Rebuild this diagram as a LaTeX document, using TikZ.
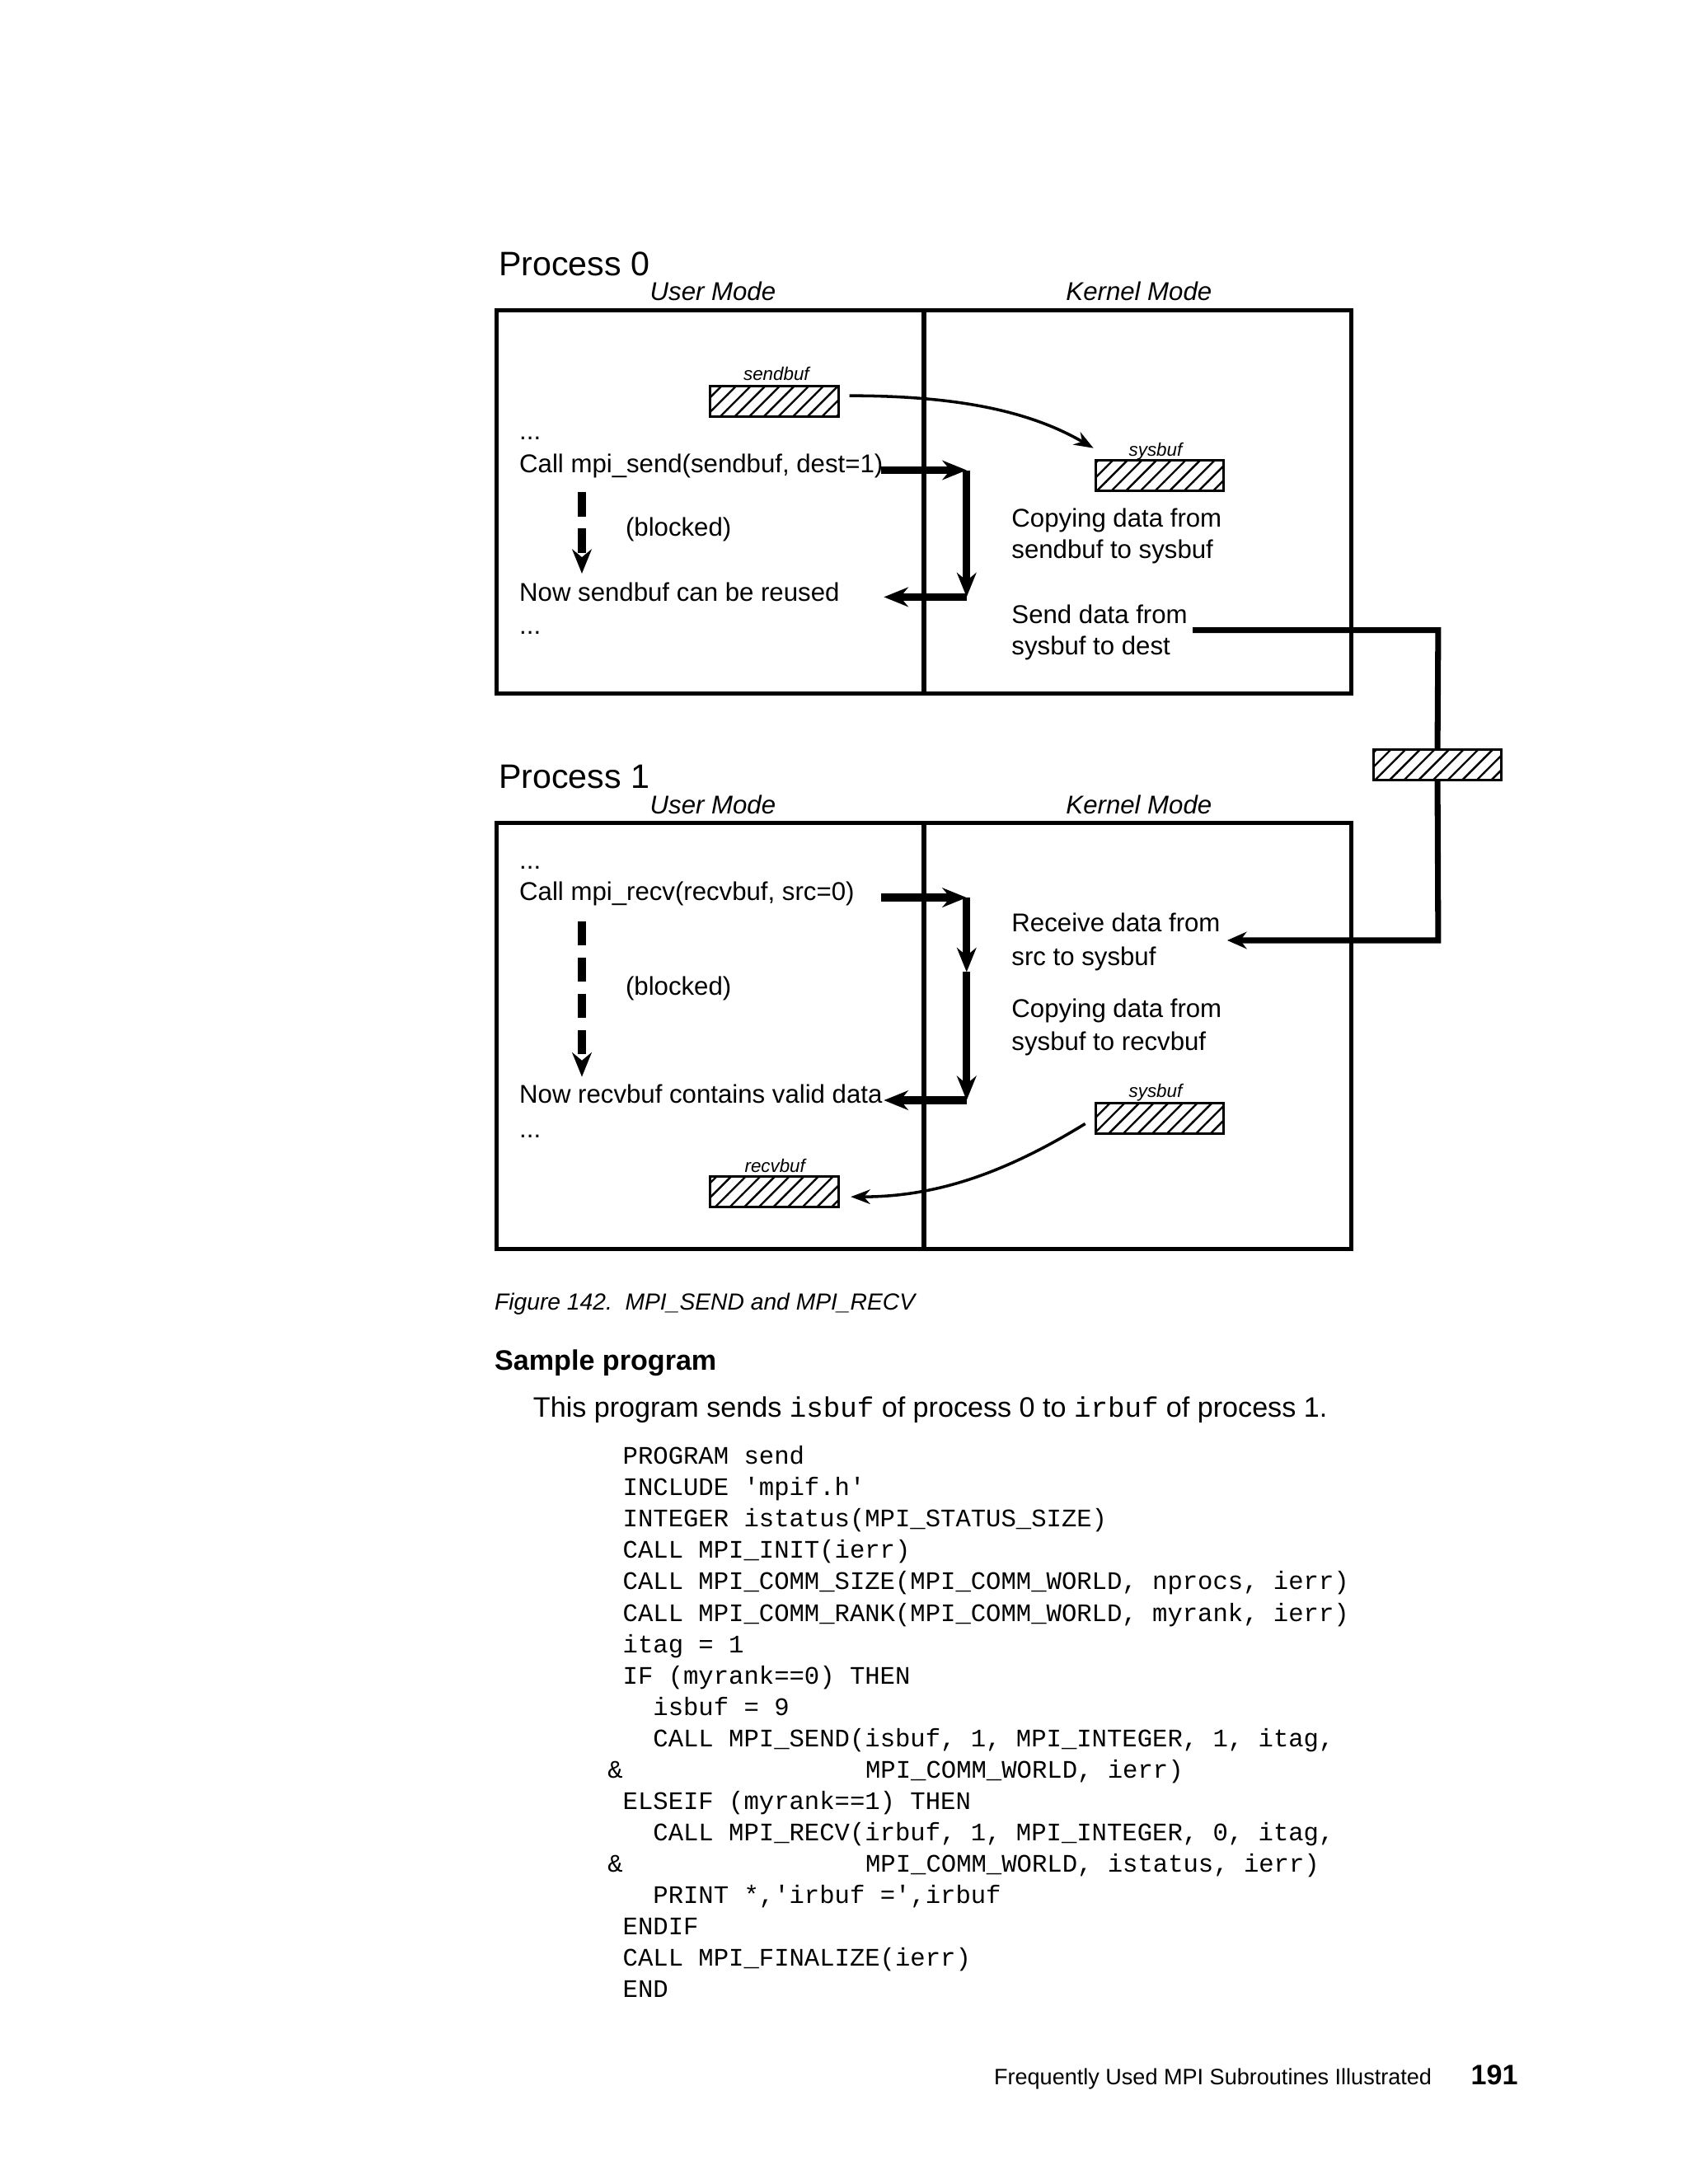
\documentclass[tikz,border=0pt]{standalone}
\usepackage{fontspec}
\setmainfont{Liberation Sans}
\newfontfamily\mono{Liberation Mono}
\usetikzlibrary{patterns,arrows.meta}
\begin{document}
\begin{tikzpicture}[x=0.01cm,y=-0.01cm,
 t/.style={anchor=base west,inner sep=0,font=\fontsize{5.3}{6.4}\selectfont,align=left},
 proc/.style={anchor=base west,inner sep=0,font=\fontsize{7}{8}\selectfont},
 mode/.style={anchor=base,inner sep=0,font=\fontsize{5.3}{6}\selectfont\itshape},
 lab/.style={anchor=base,inner sep=0,font=\fontsize{3.8}{4}\selectfont\itshape},
 buf/.style={draw,line width=0.5pt,pattern=north east lines,minimum width=0.93cm,minimum height=0.22cm,inner sep=0},
 box/.style={draw,line width=0.9pt},
 thick arr/.style={line width=1.6pt,-{Stealth[length=5pt,width=4pt]}},
 dash arr/.style={line width=1.6pt,dash pattern=on 5pt off 2.5pt,-{Stealth[length=5pt,width=4pt]}},
 thin arr/.style={line width=0.6pt,-{Stealth[length=4pt,width=3pt]}},
 code/.style={anchor=base west,inner sep=0,font=\fontsize{5.2}{6}\mono}]
\useasboundingbox (0,0) rectangle (1224,1584);
% Process 0
\node[proc] (p0) at (361,200) {Process 0};
\node[mode] (um0) at (517,218) {User Mode};
\node[mode] (km0) at (826,218) {Kernel Mode};
\draw[box] (360,225) rectangle (980,503);
\draw[box] (670,225) -- (670,503);
\node[buf] (sb) at (561.5,291) {};
\node[lab] at (563,276) {sendbuf};
\node[buf] (sy0) at (841,345) {};
\node[lab] at (838,331) {sysbuf};
\draw[thin arr] (616,287) .. controls (700,287) and (750,300) .. (793,325);
\node[t] at (376,319) {...};
\node[t] (cs) at (376,343) {Call mpi\_send(sendbuf, dest=1)};
\draw[dash arr] (422,357) -- (422,416);
\node[t] at (453,389) {(blocked)};
\node[t] at (376,436) {Now sendbuf can be reused};
\node[t] at (376,460) {...};
\coordinate (a1) at (639,341); \coordinate (a2) at (701,341);
\coordinate (a3) at (701,433); \coordinate (a4) at (641,433);
\draw[thick arr] (a1) -- (a2);
\draw[thick arr] (a2) -- (a3);
\draw[thick arr] (a3) -- (a4);
\node[t] at (733,382) {Copying data from};
\node[t] at (733,405) {sendbuf to sysbuf};
\node[t] at (733,452) {Send data from};
\node[t] at (733,475) {sysbuf to dest};
\node[buf] (net) at (1042.5,554.5) {};
\coordinate (n1) at (865,457); \coordinate (n2) at (1043,457);
\coordinate (n3) at (1043,682); \coordinate (n4) at (890,682);
\draw[line width=1.2pt] (n1) -- (n2) -- (net.north);
\draw[line width=1.2pt,-{Stealth[length=4pt,width=3.5pt]}] (net.south) -- (n3) -- (n4);
% Process 1
\node[proc] (p1) at (361,572) {Process 1};
\node[mode] (um1) at (517,590) {User Mode};
\node[mode] (km1) at (826,590) {Kernel Mode};
\draw[box] (360,597) rectangle (980,906);
\draw[box] (670,597) -- (670,906);
\node[t] at (376,630) {...};
\node[t] at (376,653) {Call mpi\_recv(recvbuf, src=0)};
\draw[dash arr] (422,668) -- (422,781);
\node[t] at (453,722) {(blocked)};
\node[t] at (376,800) {Now recvbuf contains valid data};
\node[t] at (376,825) {...};
\coordinate (b1) at (639,651); \coordinate (b2) at (701,651);
\coordinate (b3) at (701,705); \coordinate (b4) at (701,798); \coordinate (b5) at (641,798);
\draw[thick arr] (b1) -- (b2);
\draw[thick arr] (b2) -- (b3);
\draw[thick arr] (b3) -- (b4);
\draw[thick arr] (b4) -- (b5);
\node[t] at (733,676) {Receive data from};
\node[t] at (733,700) {src to sysbuf};
\node[t] at (733,738) {Copying data from};
\node[t] at (733,762) {sysbuf to recvbuf};
\node[buf] (sy1) at (841,811) {};
\node[lab] at (838,796) {sysbuf};
\node[buf] (rb) at (561.5,864.5) {};
\node[lab] at (562,850) {recvbuf};
\draw[thin arr] (787,815) .. controls (730,850) and (680,868) .. (617,868);
% text
\node[anchor=base west,inner sep=0,font=\fontsize{4.8}{6}\selectfont\itshape] at (358,950) {Figure 142.\ \ MPI\_SEND and MPI\_RECV};
\node[anchor=base west,inner sep=0,font=\fontsize{5.8}{7}\selectfont\bfseries] at (358,994) {Sample program};
\node[anchor=base west,inner sep=0,font=\fontsize{5.8}{7}\selectfont] at (386,1028) {This program sends {\mono isbuf} of process 0 to {\mono irbuf} of process 1.};
\foreach \l [count=\i from 0] in {PROGRAM send,INCLUDE 'mpif.h',INTEGER istatus(MPI\_STATUS\_SIZE),CALL MPI\_INIT(ierr),{CALL MPI\_COMM\_SIZE(MPI\_COMM\_WORLD, nprocs, ierr)},{CALL MPI\_COMM\_RANK(MPI\_COMM\_WORLD, myrank, ierr)},itag = 1,IF (myrank==0) THEN,\ \ isbuf = 9,{\ \ CALL MPI\_SEND(isbuf, 1, MPI\_INTEGER, 1, itag,},{},ELSEIF (myrank==1) THEN,{\ \ CALL MPI\_RECV(irbuf, 1, MPI\_INTEGER, 0, itag,},{},{\ \ PRINT *,'irbuf =',irbuf},ENDIF,CALL MPI\_FINALIZE(ierr),END}
  \node[code] at (451,1062+\i*22.75) {\obeyspaces\l};
\node[code] at (440,1289.5) {\&};
\node[code] at (627,1289.5) {MPI\_COMM\_WORLD, ierr)};
\node[code] at (440,1357.75) {\&};
\node[code] at (627,1357.75) {MPI\_COMM\_WORLD, istatus, ierr)};
\node[anchor=base east,inner sep=0,font=\fontsize{4.6}{6}\selectfont] at (1039,1512) {Frequently Used MPI Subroutines Illustrated};
\node[anchor=base west,inner sep=0,font=\fontsize{5.8}{7}\selectfont\bfseries] at (1066,1512) {191};
\end{tikzpicture}
\end{document}
